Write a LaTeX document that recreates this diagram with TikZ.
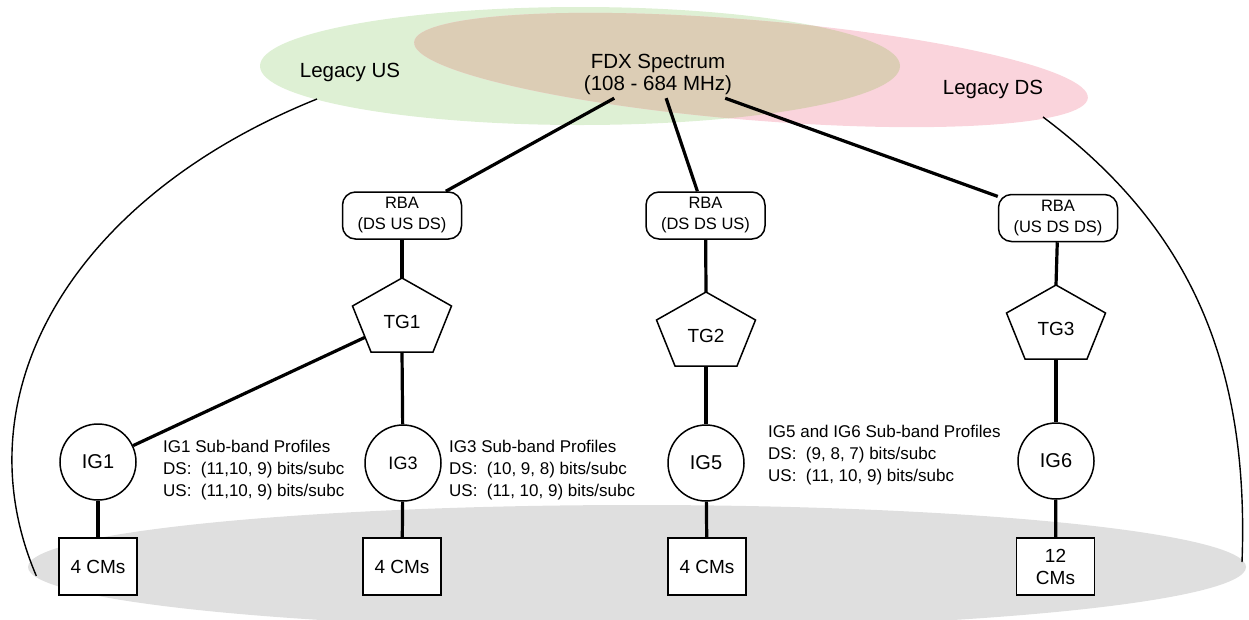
\documentclass[tikz,border=0pt]{standalone}
\usepackage{fontspec}
\setmainfont{Liberation Sans}
\usetikzlibrary{calc}

\definecolor{usgreen}{RGB}{222,240,212}
\definecolor{dspink}{RGB}{250,212,220}
\definecolor{fdxtan}{RGB}{220,205,181}
\definecolor{floorgray}{RGB}{223,223,223}

\tikzset{
  link/.style={line width=3.2pt},
  rim/.style={line width=1.4pt},
  whitebox/.style={draw, line width=1.5pt, fill=white},
  rba/.style={whitebox, rounded corners=13pt, minimum width=119pt, minimum height=47pt,
    inner sep=0pt, align=center, font=\fontsize{16.5}{21}\selectfont},
  igcircle/.style={whitebox, circle, minimum size=76pt, inner sep=0pt, font=\fontsize{20}{22}\selectfont},
  modem/.style={whitebox, rectangle, minimum width=78pt, minimum height=57pt, inner sep=0pt,
    align=center, font=\fontsize{19}{22}\selectfont},
  profile/.style={anchor=west, align=left, inner sep=0pt, font=\fontsize{17}{22}\selectfont},
  band/.style={align=center, inner sep=0pt, font=\fontsize{20.5}{22}\selectfont},
  tglabel/.style={inner sep=0pt, font=\fontsize{19}{20}\selectfont},
  tgshape/.style={whitebox, line join=miter},
}

% pentagon for a transmission group: name, centre x, top y, label
\newcommand{\tgpent}[4]{%
  \coordinate (#1top) at (#2,#3);
  \coordinate (#1ur) at ({#2+49.5},{#3+28});
  \coordinate (#1lr) at ({#2+31},{#3+74});
  \coordinate (#1ll) at ({#2-31},{#3+74});
  \coordinate (#1ul) at ({#2-49.5},{#3+28});
  \coordinate (#1bot) at (#2,{#3+74});
  \draw[tgshape] (#1top) -- (#1ur) -- (#1lr) -- (#1ll) -- (#1ul) -- cycle;
  \node[tglabel] (#1) at (#2,{#3+44}) {#4};
}

\begin{document}
\begin{tikzpicture}[x=1pt,y=-1pt]
\useasboundingbox (0,0) rectangle (1249,619);

% spectrum bands
\fill[usgreen] (580,66) ellipse[x radius=320pt, y radius=59pt];
\fill[dspink, rotate around={-4.75:(751,70)}] (751,70) ellipse[x radius=338pt, y radius=50pt];
\begin{scope}
  \clip (580,66) ellipse[x radius=320pt, y radius=59pt];
  \fill[fdxtan, rotate around={-4.75:(751,70)}] (751,70) ellipse[x radius=338pt, y radius=50pt];
\end{scope}

% modem floor
\fill[floorgray] (637,567) ellipse[x radius=609pt, y radius=62pt];

% legacy band reach
\draw[rim] (317,99) arc[start angle=121, end angle=196, x radius=629pt, y radius=421pt];
\draw[rim] (1043,117) .. controls (1180,220) and (1250,350) .. (1242,562);

% band labels
\node[band] (lus) at (350,72) {Legacy US};
\node[band] (lds) at (993,89) {Legacy DS};
\node[band, minimum width=152pt, minimum height=48pt] (fdx) at (658,74) {FDX Spectrum\\(108 - 684 MHz)};

% resource block assignments
\node[rba] (rba1) at (402,215.5) {RBA\\(DS US DS)};
\node[rba] (rba2) at (705.5,215.5) {RBA\\(DS DS US)};
\node[rba] (rba3) at (1058,218) {RBA\\(US DS DS)};

% transmission groups
\tgpent{tg1}{402}{278}{TG1}
\tgpent{tg2}{706}{292}{TG2}
\tgpent{tg3}{1056}{285}{TG3}
\coordinate (tg1side) at ($(tg1ul)!0.68!(tg1ll)$);

% interference groups
\node[igcircle] (ig1) at (98,462) {IG1};
\node[igcircle, font=\fontsize{18}{20}\selectfont] (ig3) at (403,463) {IG3};
\node[igcircle] (ig5) at (706,463) {IG5};
\node[igcircle] (ig6) at (1056,461) {IG6};

% cable modems
\node[modem] (cm1) at (98,566.5) {4 CMs};
\node[modem] (cm3) at (402,566.5) {4 CMs};
\node[modem] (cm5) at (707,566.5) {4 CMs};
\node[modem] (cm6) at (1055.5,566.5) {12\\CMs};

% sub-band profiles
\node[profile] (p1) at (163,470) {IG1 Sub-band Profiles\\DS:~ (11,10, 9) bits/subc\\US:~ (11,10, 9) bits/subc};
\node[profile] (p3) at (449,470) {IG3 Sub-band Profiles\\DS:~ (10, 9, 8) bits/subc\\US:~ (11, 10, 9) bits/subc};
\node[profile] (p56) at (768,455) {IG5 and IG6 Sub-band Profiles\\DS:~ (9, 8, 7) bits/subc\\US:~ (11, 10, 9) bits/subc};

% connectors
\draw[link] (rba1) -- (fdx);
\draw[link] (rba2) -- (fdx);
\draw[link] (rba3) -- (fdx);
\draw[link] (rba1) -- (tg1top);
\draw[link] (rba2) -- (tg2top);
\draw[link] (rba3) -- (tg3top);
\draw[link] (tg1side) -- (ig1);
\draw[link] (tg1bot) -- (ig3);
\draw[link] (tg2bot) -- (ig5);
\draw[link] (tg3bot) -- (ig6);
\draw[link] (ig1) -- (cm1);
\draw[link] (ig3) -- (cm3);
\draw[link] (ig5) -- (cm5);
\draw[link] (ig6) -- (cm6);
\end{tikzpicture}
\end{document}
